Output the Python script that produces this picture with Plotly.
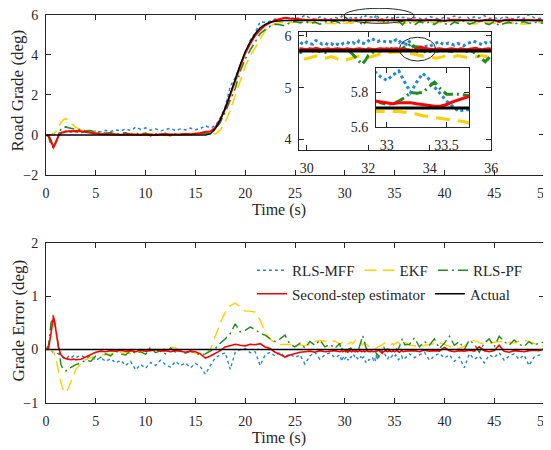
import numpy as np
import plotly.graph_objects as go

# ---------------- sampling times (s) ----------------
t = np.round(np.concatenate([
    np.arange(0, 3.01, 0.25),        # 13
    np.arange(3.5, 29.51, 0.5),      # 53
    np.arange(29.6, 32.81, 0.1),     # 33
    np.arange(32.85, 33.751, 0.05),  # 19
    np.arange(33.8, 36.01, 0.1),     # 23
    np.arange(36.5, 50.01, 0.5),     # 28
]), 3)

# ---------------- actual road grade (deg) ----------------
actual_start = 0.0
actual_end = 5.71
actual_ramp = [0.0, 0.05, 0.3, 0.75, 1.35, 2.05, 2.8, 3.5, 4.15, 4.65,
               5.05, 5.35, 5.52, 5.62, 5.67, 5.7, 5.71]          # t = 16 .. 24

# ---------------- grade errors, 0 .. 29.5 s (actual - estimate) ----------------
mff_err_early = [0, 0, -0.02, -0.05, -0.06, -0.08, -0.12, -0.15, -0.18, -0.13, -0.16, -0.12, -0.15,
                 -0.11, -0.16, -0.12, -0.2, -0.15, -0.22, -0.17, -0.25, -0.2, -0.3, -0.22, -0.38, -0.28,
                 -0.35, -0.24, -0.3, -0.2, -0.28, -0.33, -0.22, -0.3, -0.25, -0.34, -0.26, -0.32,
                 -0.46, -0.3, -0.15, -0.1, -0.06, -0.37, -0.05, 0.0, 0.02, -0.06, -0.04, -0.3, -0.1,
                 -0.05, -0.12, -0.05, -0.14,
                 -0.08, -0.15, -0.1, -0.27, -0.12, -0.05, -0.18, -0.1, -0.06, -0.15, -0.1]
ekf_err_early = [0, 0, 0, -0.04, -0.18, -0.4, -0.62, -0.76, -0.81, -0.72, -0.6, -0.48, -0.37,
                 -0.26, -0.19, -0.15, -0.12, -0.1, -0.1, -0.08, -0.06, -0.04, -0.05, -0.08, -0.03, -0.06,
                 -0.02, -0.05, -0.02, -0.01, 0.02, 0.05, 0.03, -0.02, -0.04, -0.03, -0.07, -0.1,
                 -0.08, 0.0, 0.25, 0.5, 0.7, 0.82, 0.87, 0.8, 0.72, 0.72, 0.7, 0.55, 0.32,
                 0.2, 0.12, 0.1, 0.1,
                 0.1, 0.1, 0.09, 0.07, 0.1, 0.15, 0.17, 0.16, 0.14, 0.16, 0.1]
pf_err_early = [0, 0.08, 0.5, 0.65, 0.38, 0.0, -0.28, -0.38, -0.4, -0.36, -0.33, -0.3, -0.28,
                -0.25, -0.2, -0.22, -0.12, -0.15, -0.08, -0.12, -0.03, -0.08, -0.1, -0.02, -0.07, -0.04,
                -0.09, 0.05, -0.06, -0.02, -0.08, 0.03, -0.05, -0.01, -0.07, -0.03, -0.06, -0.1,
                -0.08, -0.03, 0.02, 0.12, 0.2, 0.3, 0.48, 0.33, 0.36, 0.42, 0.38, 0.3, 0.27,
                0.2, 0.15, 0.2, 0.27,
                0.1, 0.05, 0.12, 0.03, 0.15, 0.08, 0.18, 0.05, 0.1, 0.02, 0.12]
sse_err_early = [0, 0.02, 0.3, 0.62, 0.35, 0.05, -0.1, -0.15, -0.17, -0.18, -0.19, -0.18, -0.19,
                 -0.18, -0.14, -0.1, -0.05, -0.03, -0.04, -0.02, -0.03, -0.01, -0.03, -0.02, -0.04, -0.01,
                 -0.03, -0.02, 0.0, -0.03, -0.02, -0.04, -0.02, -0.03, -0.05, -0.03, -0.04, -0.08,
                 -0.16, -0.12, -0.07, -0.02, 0.05, 0.08, 0.1, 0.08, 0.07, 0.1, 0.09, 0.11, 0.05,
                 0.02, -0.05, -0.09, -0.14,
                 -0.1, -0.07, -0.05, -0.04, -0.03, -0.05, -0.02, -0.04, -0.03, -0.02, -0.04]

# ---------------- estimates, 29.6 .. 36 s (deg) ----------------
mff_zoom = [5.86, 5.93, 5.87, 5.83, 5.88, 5.85, 5.84, 5.91, 5.88, 5.84, 5.86, 5.83, 5.85, 5.81,
            5.84, 5.82, 5.86, 5.88, 5.85, 5.87, 5.84, 5.9, 5.86, 5.85, 5.9, 5.95, 5.92, 5.89, 5.91,
            5.9, 5.88, 5.89, 5.87,
            5.9, 5.92, 5.89, 5.87, 5.9, 5.925, 5.86, 5.8, 5.86, 5.91, 5.88, 5.83, 5.79, 5.75, 5.72,
            5.69, 5.7, 5.7, 5.74,
            5.78, 5.8, 5.79, 5.83, 5.86, 5.89, 5.85, 5.83, 5.86, 5.84, 5.82, 5.85, 5.84, 5.81, 5.85,
            5.87, 5.9, 5.88, 5.85, 5.83, 5.87, 5.85, 5.88]
ekf_zoom = [5.6, 5.58, 5.56, 5.55, 5.56, 5.58, 5.6, 5.61, 5.6, 5.58, 5.57, 5.58, 5.6, 5.58, 5.55,
            5.53, 5.52, 5.54, 5.56, 5.58, 5.6, 5.61, 5.62, 5.6, 5.58, 5.6, 5.62, 5.64, 5.65, 5.66,
            5.67, 5.68, 5.69,
            5.69, 5.69, 5.69, 5.69, 5.69, 5.69, 5.685, 5.68, 5.675, 5.665, 5.66, 5.655, 5.65, 5.645,
            5.64, 5.635, 5.63, 5.62, 5.61,
            5.6, 5.59, 5.58, 5.57, 5.57, 5.58, 5.6, 5.61, 5.62, 5.61, 5.6, 5.62, 5.61, 5.6, 5.58,
            5.57, 5.58, 5.6, 5.61, 5.62, 5.6, 5.58, 5.57]
pf_zoom = [5.72, 5.7, 5.68, 5.7, 5.72, 5.74, 5.71, 5.73, 5.7, 5.69, 5.68, 5.71, 5.72, 5.74, 5.72,
           5.75, 5.73, 5.71, 5.7, 5.64, 5.58, 5.5, 5.45, 5.52, 5.62, 5.66, 5.7, 5.72, 5.71, 5.74,
           5.72, 5.75, 5.76,
           5.76, 5.755, 5.74, 5.73, 5.735, 5.75, 5.77, 5.8, 5.795, 5.8, 5.83, 5.86, 5.82, 5.79,
           5.79, 5.79, 5.785, 5.78, 5.75,
           5.72, 5.66, 5.7, 5.73, 5.71, 5.7, 5.72, 5.69, 5.71, 5.7, 5.73, 5.71, 5.74, 5.72, 5.7,
           5.73, 5.69, 5.66, 5.6, 5.54, 5.5, 5.56, 5.62]
sse_zoom = [5.74, 5.73, 5.75, 5.74, 5.73, 5.75, 5.74, 5.76, 5.74, 5.73, 5.74, 5.75, 5.73, 5.74,
            5.75, 5.74, 5.73, 5.75, 5.74, 5.73, 5.74, 5.75, 5.74, 5.73, 5.75, 5.74, 5.73, 5.74,
            5.75, 5.74, 5.75, 5.74, 5.75,
            5.75, 5.75, 5.745, 5.74, 5.735, 5.74, 5.74, 5.74, 5.735, 5.73, 5.725, 5.72, 5.72, 5.73,
            5.745, 5.755, 5.765, 5.78, 5.78,
            5.76, 5.75, 5.74, 5.73, 5.74, 5.75, 5.74, 5.73, 5.74, 5.75, 5.74, 5.73, 5.75, 5.74,
            5.73, 5.74, 5.75, 5.76, 5.74, 5.73, 5.74, 5.75, 5.74]

# ---------------- grade errors, 36.5 .. 50 s ----------------
mff_err_late = [-0.08, -0.15, -0.1, -0.05, -0.2, -0.12, -0.07, -0.16, -0.1, -0.22, -0.14, -0.34,
                -0.08, -0.18, -0.12, -0.25, -0.1, -0.15, -0.06, -0.2, -0.12, -0.08, -0.18, -0.1,
                -0.3, -0.14, -0.1, -0.13]
ekf_err_late = [0.08, 0.07, 0.06, 0.08, 0.1, 0.11, 0.12, 0.1, 0.06, 0.03, 0.02, 0.06, 0.15, 0.17,
                0.13, 0.1, 0.12, 0.14, 0.15, 0.15, 0.13, 0.12, 0.16, 0.18, 0.15, 0.11, 0.08, 0.06]
pf_err_late = [0.1, 0.22, 0.05, 0.15, 0.08, 0.2, 0.02, 0.12, 0.25, 0.08, 0.15, 0.0, 0.18, 0.1,
               -0.05, 0.12, 0.2, 0.05, 0.25, 0.15, 0.08, 0.18, 0.1, 0.06, 0.15, 0.08, 0.12, 0.14]
sse_err_late = [-0.03, -0.02, -0.04, -0.01, -0.03, -0.02, -0.03, 0.04, -0.02, -0.04, -0.02, -0.03,
                -0.01, -0.03, 0.05, -0.02, -0.04, -0.02, 0.08, -0.03, -0.05, -0.02, -0.03, -0.04,
                -0.02, -0.01, -0.02, 0.01]

names = ["RLS-MFF", "EKF", "RLS-PF", "Second-step estimator", "Actual"]
colors = ["#1f88d8", "#FFD000", "#1E8C1E", "#FF0000", "#000000"]
dashes = ["dot", "12px,6px", "10px,4px,2px,4px", "solid", "solid"]

# ---------------- assemble ----------------
n_pre = 13 + 53 - len(actual_ramp) - 11
n_post = 11 + 33 + 19 + 23 + 28
actual = np.concatenate([[actual_start] * n_pre, actual_ramp, [actual_end] * n_post])
assert len(actual) == len(t), (len(actual), len(t))
win = slice(66, 66 + 75)


def build(early, zoom, late):
    assert len(early) == 66 and len(zoom) == 75 and len(late) == 28, (len(early), len(zoom), len(late))
    err = np.concatenate([early, actual[win] - np.array(zoom), late])
    return actual - err, err


series = [build(mff_err_early, mff_zoom, mff_err_late),
          build(ekf_err_early, ekf_zoom, ekf_err_late),
          build(pf_err_early, pf_zoom, pf_err_late),
          build(sse_err_early, sse_zoom, sse_err_late),
          (actual, actual - actual)]

W, H = 551, 450
OFF = 8  # page body margin offset of the rendered figure


def fx(X):
    return (X - OFF) / W


def fy(Y):
    return 1 - (Y - OFF) / H


fig = go.Figure()

main_w = [1.5, 1.6, 1.6, 2.0, 1.5]
inset_w = [3, 3, 3, 3, 3.2]
for i, (est, err) in enumerate(series):
    fig.add_trace(go.Scatter(x=t, y=est, mode="lines", xaxis="x", yaxis="y", showlegend=False,
                             line=dict(color=colors[i], width=main_w[i], dash=dashes[i])))
for i, (est, err) in enumerate(series):
    fig.add_trace(go.Scatter(x=t, y=err, mode="lines", xaxis="x2", yaxis="y2", name=names[i],
                             legend="legend" if i < 3 else "legend2",
                             line=dict(color=colors[i], width=1.4 if i < 3 else 1.6, dash=dashes[i])))
for i, (est, err) in enumerate(series):
    fig.add_trace(go.Scatter(x=t, y=est, mode="lines", xaxis="x3", yaxis="y3", showlegend=False,
                             line=dict(color=colors[i], width=inset_w[i],
                                       dash=dashes[i] if i != 1 else "14px,8px")))
for i, (est, err) in enumerate(series):
    fig.add_trace(go.Scatter(x=t, y=est, mode="lines", xaxis="x4", yaxis="y4", showlegend=False,
                             line=dict(color=colors[i], width=inset_w[i],
                                       dash=dashes[i] if i != 1 else "14px,8px")))

FONT = "Liberation Serif"
TC = "#262626"


def ax(**kw):
    d = dict(showline=True, linecolor=TC, linewidth=1, mirror="ticks", ticks="inside", ticklen=5,
             tickcolor=TC, tickfont=dict(family=FONT, size=14, color=TC), showgrid=False,
             zeroline=False, fixedrange=True, automargin=False, ticklabeloverflow="allow")
    d.update(kw)
    return d


fig.update_layout(
    width=W, height=H, margin=dict(l=0, r=0, t=0, b=0, pad=0, autoexpand=False),
    paper_bgcolor="white", plot_bgcolor="white",
    xaxis=ax(domain=[fx(46), fx(544)], range=[0, 50], dtick=5, anchor="y", ticklabelstandoff=5),
    yaxis=ax(domain=[fy(175), fy(14.7)], range=[-2, 6], dtick=2, anchor="x", ticklabelstandoff=4),
    xaxis2=ax(domain=[fx(46), fx(544)], range=[0, 50], dtick=5, anchor="y2", ticklabelstandoff=5),
    yaxis2=ax(domain=[fy(403), fy(242.7)], range=[-1, 2], dtick=1, anchor="x2", ticklabelstandoff=4),
    xaxis3=ax(domain=[fx(299.3), fx(491.3)], range=[29.76, 36], dtick=2, anchor="y3", ticklabelstandoff=5),
    yaxis3=ax(domain=[fy(150.3), fy(31.7)], range=[3.79, 6.08], dtick=1, anchor="x3", ticklabelstandoff=4),
    xaxis4=ax(domain=[fx(376), fx(469.3)], range=[32.91, 33.69], tickvals=[33, 33.5], anchor="y4",
              ticklabelstandoff=5),
    yaxis4=ax(domain=[fy(127.3), fy(68.3)], range=[5.598, 5.94], tickvals=[5.6, 5.8], anchor="x4",
              ticklabelstandoff=4),
    legend=dict(orientation="h", x=fx(252), y=fy(270.5), xanchor="left", yanchor="middle",
                font=dict(family=FONT, size=15, color=TC), bgcolor="rgba(0,0,0,0)"),
    legend2=dict(orientation="h", x=fx(252), y=fy(294), xanchor="left", yanchor="middle",
                 font=dict(family=FONT, size=15, color=TC), bgcolor="rgba(0,0,0,0)"),
    shapes=[
        dict(type="circle", xref="paper", yref="paper", x0=fx(344), x1=fx(414), y0=fy(23.3),
             y1=fy(8.3), line=dict(color=TC, width=1), layer="above"),
        dict(type="circle", xref="paper", yref="paper", x0=fx(399.3), x1=fx(435.7), y0=fy(61),
             y1=fy(37.3), line=dict(color=TC, width=1), layer="above"),
    ],
    annotations=[
        dict(text="Road Grade (deg)", x=fx(17.5), y=fy(91), xref="paper", yref="paper", textangle=-90,
             showarrow=False, xanchor="center", yanchor="middle", borderpad=0,
             font=dict(family=FONT, size=17, color=TC)),
        dict(text="Grade Error (deg)", x=fx(17.5), y=fy(321), xref="paper", yref="paper", textangle=-90,
             showarrow=False, xanchor="center", yanchor="middle", borderpad=0,
             font=dict(family=FONT, size=17, color=TC)),
        dict(text="Time (s)", x=fx(279), y=fy(210), xref="paper", yref="paper",
             showarrow=False, xanchor="center", yanchor="middle", font=dict(family=FONT, size=16, color=TC)),
        dict(text="Time (s)", x=fx(279), y=fy(438), xref="paper", yref="paper",
             showarrow=False, xanchor="center", yanchor="middle", font=dict(family=FONT, size=16, color=TC)),
    ],
)

fig.write_html("out.html")
